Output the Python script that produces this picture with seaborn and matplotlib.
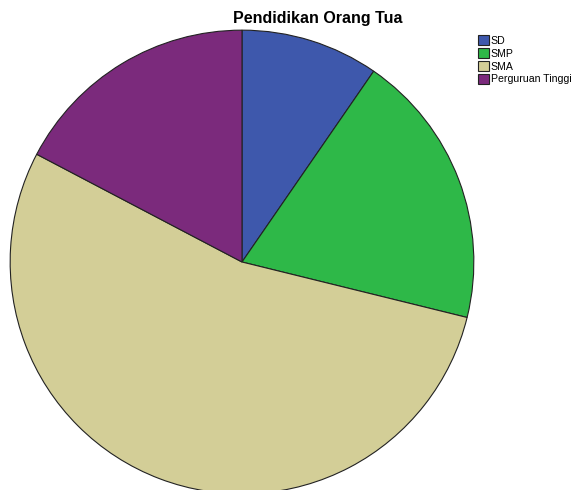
import matplotlib
matplotlib.use("Agg")
import matplotlib.pyplot as plt
import seaborn as sns

# Pendidikan orang tua (frequencies)
categories = ["SD", "SMP", "SMA", "Perguruan Tinggi"]
counts = [5, 10, 28, 9]
colors = ["#3E58AC", "#2EB848", "#D3CE97", "#7B2A7C"]

sns.set_style("white")
plt.rcParams["font.family"] = ["Liberation Sans", "DejaVu Sans"]
plt.rcParams["text.color"] = "black"

fig = plt.figure(figsize=(5.75, 4.9), dpi=100)
ax = fig.add_axes([9 / 575, -5 / 490, 466 / 575, 466 / 490])

wedges, _ = ax.pie(counts, colors=colors, startangle=90, counterclock=False,
                   radius=1.0, wedgeprops=dict(edgecolor="#222222", linewidth=0.8))
ax.set_xlim(-1.005, 1.005)
ax.set_ylim(-1.005, 1.005)
ax.set_aspect("equal")
ax.axis("off")

fig.text(318 / 575, 1 - 19 / 490, "Pendidikan Orang Tua", ha="center", va="center",
         fontsize=11.5, fontweight="bold", color="black")

fig.legend(wedges, categories, loc="upper left", bbox_to_anchor=(474 / 575, 1 - 31 / 490),
           frameon=False, fontsize=7.6, handlelength=1.0, handleheight=1.0,
           handletextpad=0.2, labelspacing=0.25, borderaxespad=0)

fig.savefig("out.png", dpi=100)
